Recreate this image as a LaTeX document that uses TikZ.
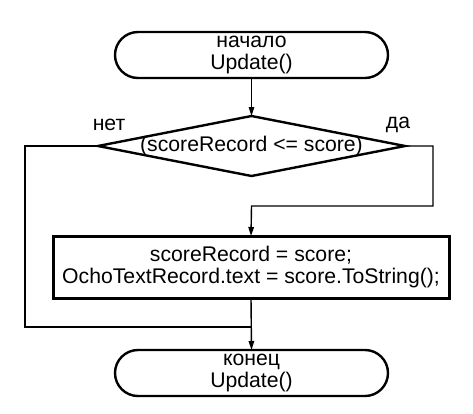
\documentclass[tikz,border=0pt]{standalone}
\usepackage{fontspec}
\setmainfont{Liberation Sans}
\usetikzlibrary{shapes.geometric,arrows.meta}
\begin{document}
\begin{tikzpicture}[x=1pt,y=-1pt,
  every node/.style={font=\fontsize{21.2}{21.5}\selectfont, inner sep=0pt, outer sep=0pt},
  term/.style={draw, line width=2.4pt, rectangle, rounded corners=23pt, minimum width=273pt, minimum height=46pt, align=center},
  decision/.style={draw, line width=2.4pt, diamond, minimum width=307pt, minimum height=60pt},
  action/.style={draw, line width=3pt, rectangle, minimum width=396pt, minimum height=62pt, align=center},
  conn/.style={line width=1.4pt},
  arr/.style={-{Triangle[length=9pt,width=5.5pt]}}]
\useasboundingbox (0,0) rectangle (473,413);
\node[term] (start) at (251.5,55) {начало\\Update()};
\node[decision] (dec) at (251.5,146) {};
\node at (251.5,146) {(scoreRecord <= score)};
\node (no) at (109,125) {нет};
\node (yes) at (398,125) {да};
\node[action] (act) at (251,267) {scoreRecord = score;\\OchoTextRecord.text = score.ToString();};
\node[term] (stop) at (251.5,373) {конец\\Update()};
\coordinate (lb) at (25,327);
\coordinate (jn) at (251.5,327);
\coordinate (rb) at (433,206);
\coordinate (rj) at (251.5,206);
\draw[conn,arr] (start.south) -- (dec.north);
\draw[conn] (dec.west) -| (lb) -- (jn);
\draw[conn,arr] (dec.east) -| (rb) -- (rj) -- (act.north);
\draw[conn,arr] (act.south) -- (stop.north);
\end{tikzpicture}
\end{document}
